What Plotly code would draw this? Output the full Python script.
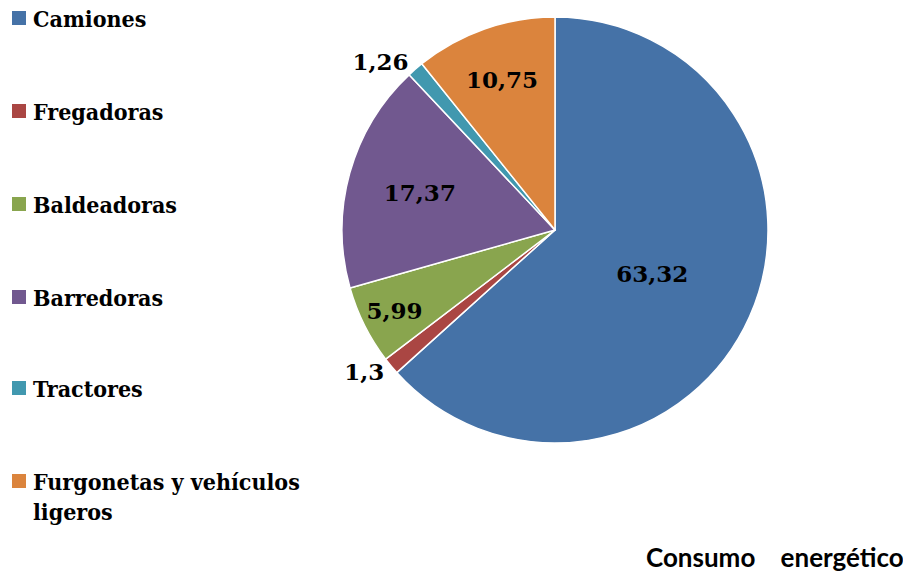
import plotly.graph_objects as go


##############################################################
# Data
##############################################################

labels = [
    "Camiones",
    "Fregadoras",
    "Baldeadoras",
    "Barredoras",
    "Tractores",
    "Furgonetas y vehículos ligeros"
]

legend_text = [
    "Camiones",
    "Fregadoras",
    "Baldeadoras",
    "Barredoras",
    "Tractores",
    "Furgonetas y vehículos<br>ligeros"
]

values = [63.32, 1.3, 5.99, 17.37, 1.26, 10.75]

value_text = ["63,32", "1,3", "5,99", "17,37", "1,26", "10,75"]

colors = ["#4572A7", "#AA4643", "#89A54E", "#71588F", "#4198AF", "#DB843D"]

positions = ["inside", "outside", "inside", "inside", "outside", "inside"]


##############################################################
# Pie
##############################################################

W, H = 903, 577

cx, cy, r = 555, 230, 213

label_font = dict(family="DejaVu Serif", size=23, color="black", weight="bold")

fig = go.Figure(

    go.Pie(

        labels=labels,

        values=values,

        text=value_text,

        textinfo="text",

        textposition=positions,

        sort=False,

        direction="clockwise",

        rotation=0,

        marker=dict(colors=colors, line=dict(color="white", width=1.5)),

        textfont=label_font,

        insidetextfont=label_font,

        outsidetextfont=label_font,

        insidetextorientation="horizontal",

        showlegend=False,

        domain=dict(
            x=[(cx - r) / W, (cx + r) / W],
            y=[(H - cy - r) / H, (H - cy + r) / H]
        )

    )

)


##############################################################
# Legend (drawn by hand to keep the wide spacing)
##############################################################

legend_y = [18, 111, 204, 297, 388, 481]

for name, col, y in zip(legend_text, colors, legend_y):

    fig.add_shape(
        type="rect",
        xref="paper", yref="paper",
        x0=12 / W, x1=26 / W,
        y0=1 - (y + 7) / H, y1=1 - (y - 7) / H,
        fillcolor=col,
        line=dict(width=0)
    )

    fig.add_annotation(
        x=31 / W,
        y=1 - (y - 15) / H,
        xref="paper", yref="paper",
        xanchor="left", yanchor="top",
        text=name,
        align="left",
        showarrow=False,
        font=dict(family="DejaVu Serif Condensed", size=23, color="black", weight="bold")
    )


fig.add_annotation(
    x=1.0,
    y=1 - 557 / H,
    xref="paper", yref="paper",
    xanchor="right", yanchor="middle",
    xshift=3,
    text="Consumo\u00a0\u00a0\u00a0 energético",
    showarrow=False,
    font=dict(family="Lato", size=26, color="black", weight="bold")
)


fig.update_layout(
    width=W,
    height=H,
    margin=dict(l=0, r=0, t=0, b=0),
    paper_bgcolor="white",
    plot_bgcolor="white"
)

fig.write_html(
    "out.html",
    config={"displayModeBar": False},
    post_script="document.body.style.margin='0';"
)
